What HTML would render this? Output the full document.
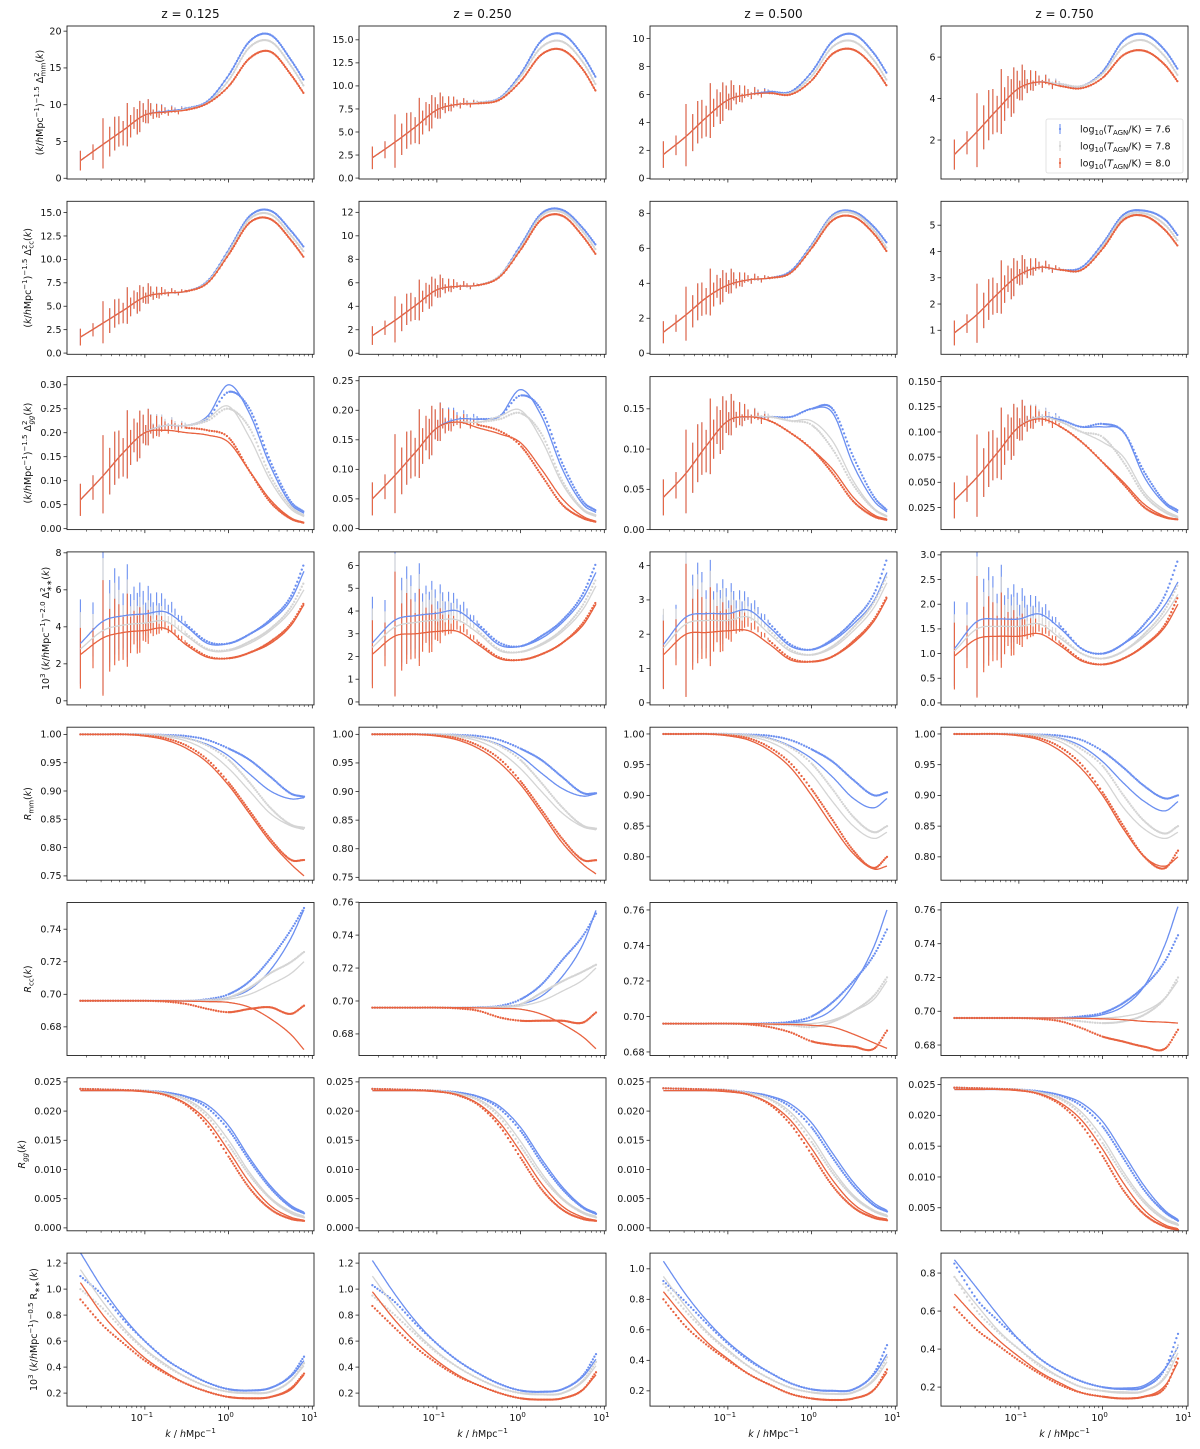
<!DOCTYPE html>
<html><head><meta charset="utf-8"><style>
html,body{margin:0;padding:0;background:#fff;}
svg{display:block;font-family:"DejaVu Sans","Liberation Sans",sans-serif;}
</style></head><body>
<svg id="fig" width="1200" height="1449" viewBox="0 0 1200 1449" xmlns="http://www.w3.org/2000/svg"></svg>
<script>
// ---- data grid (log10 k) ----
const logK=[-1.77,-1.5,-1.25,-1.0,-0.75,-0.5,-0.25,0,0.25,0.5,0.75,0.9];
const zTitles=["z = 0.125","z = 0.250","z = 0.500","z = 0.750"];
const xTickLabels=["10","10","10"];
const xTickExp=["\u22121","0","1"];
const xTickVals=[-1,0,1];
const errK=[-1.77,-1.62,-1.5,-1.42,-1.36,-1.31,-1.26,-1.21,-1.17,-1.13,-1.09,-1.06,-1.02,-0.99,-0.96,-0.93,-0.9,-0.86,-0.83,-0.8,-0.76,-0.72,-0.68,-0.64,-0.6,-0.56,-0.52];
const errFrac=[0.62,0.33,0.8,0.45,0.42,0.36,0.3,0.45,0.24,0.2,0.25,0.28,0.16,0.12,0.2,0.1,0.08,0.11,0.06,0.08,0.05,0.045,0.05,0.035,0.035,0.03,0.02];
const errJit=[0,-0.02,0.03,-0.05,0.06,0.04,-0.06,0.05,-0.03,0.07,-0.04,0.02,0.05,-0.03,0.04,0.06,-0.02,0.03,-0.03,0.04,0.02,-0.02,0.03,0.01,-0.02,0.02,0.01];

// Row 1: Delta^2_mm
const mmB=[[2.4,4.6,6.6,8.6,9.1,9.5,10.5,14.0,18.6,19.5,16.0,13.3],[2.2,3.9,5.6,7.4,8.0,8.2,8.7,11.3,14.9,15.6,13.2,10.9],[1.7,3.0,4.4,5.6,6.0,6.2,6.2,7.6,9.8,10.3,8.9,7.5],[1.3,2.4,3.5,4.5,4.8,4.7,4.6,5.3,6.8,7.1,6.3,5.4]];
const mmG=[[2.4,4.6,6.6,8.6,9.0,9.4,10.3,13.3,17.8,18.6,15.2,12.5],[2.2,3.9,5.6,7.4,8.0,8.2,8.6,11.0,14.2,14.8,12.5,10.1],[1.7,3.0,4.4,5.6,6.0,6.1,6.1,7.3,9.4,9.8,8.4,7.0],[1.3,2.4,3.5,4.5,4.8,4.7,4.6,5.2,6.5,6.8,6.0,5.1]];
const mmR=[[2.4,4.6,6.6,8.6,9.0,9.3,10.2,12.5,16.3,17.2,14.0,11.5],[2.2,3.9,5.6,7.4,8.0,8.1,8.5,10.5,13.4,13.9,11.7,9.4],[1.7,3.0,4.4,5.6,6.0,6.1,6.0,7.0,8.9,9.2,7.9,6.6],[1.3,2.4,3.5,4.5,4.8,4.6,4.5,5.0,6.1,6.3,5.6,4.8]];
// Row 2: Delta^2_cc
const ccB=[[1.7,3.2,4.6,6.0,6.4,6.6,7.7,11.0,14.6,15.2,13.0,11.3],[1.5,2.8,4.1,5.4,5.7,5.8,6.6,9.2,11.9,12.2,10.6,9.2],[1.2,2.2,3.2,3.9,4.2,4.3,4.7,6.2,7.9,8.1,7.2,6.3],[0.9,1.6,2.4,3.1,3.4,3.3,3.4,4.3,5.4,5.55,5.2,4.6]];
const ccG=[[1.7,3.2,4.6,6.0,6.4,6.6,7.6,10.8,14.3,14.8,12.5,10.8],[1.5,2.8,4.1,5.4,5.7,5.8,6.6,9.0,11.7,12.0,10.3,8.8],[1.2,2.2,3.2,3.9,4.2,4.3,4.6,6.1,7.8,8.0,7.0,6.0],[0.9,1.6,2.4,3.1,3.4,3.3,3.3,4.2,5.3,5.45,5.0,4.4]];
const ccR=[[1.7,3.2,4.6,6.0,6.4,6.6,7.5,10.5,13.9,14.3,12.0,10.2],[1.5,2.8,4.1,5.4,5.7,5.8,6.5,8.8,11.4,11.7,9.9,8.4],[1.2,2.2,3.2,3.9,4.2,4.3,4.6,6.0,7.6,7.8,6.8,5.8],[0.9,1.6,2.4,3.1,3.4,3.3,3.3,4.1,5.2,5.35,4.8,4.2]];
// Row 3: Delta^2_gg (model lines / data dots)
const ggB=[[0.06,0.11,0.16,0.20,0.215,0.215,0.235,0.30,0.24,0.13,0.05,0.032],[0.05,0.09,0.13,0.17,0.185,0.185,0.19,0.235,0.19,0.10,0.04,0.027],[0.04,0.07,0.105,0.135,0.14,0.14,0.14,0.15,0.145,0.08,0.035,0.022],[0.032,0.055,0.08,0.105,0.115,0.112,0.105,0.105,0.10,0.055,0.028,0.02]];
const ggBd=[[0.06,0.11,0.16,0.20,0.215,0.215,0.23,0.285,0.25,0.14,0.055,0.035],[0.05,0.09,0.13,0.17,0.185,0.185,0.19,0.225,0.20,0.11,0.045,0.03],[0.04,0.07,0.105,0.135,0.14,0.14,0.14,0.15,0.15,0.09,0.04,0.024],[0.032,0.055,0.08,0.105,0.115,0.112,0.105,0.108,0.10,0.06,0.03,0.022]];
const ggG=[[0.06,0.11,0.16,0.20,0.215,0.215,0.23,0.255,0.19,0.10,0.04,0.025],[0.05,0.09,0.13,0.17,0.18,0.18,0.19,0.20,0.15,0.075,0.03,0.02],[0.04,0.07,0.105,0.135,0.14,0.14,0.135,0.135,0.11,0.06,0.026,0.017],[0.032,0.055,0.08,0.105,0.115,0.11,0.10,0.09,0.075,0.04,0.022,0.016]];
const ggGd=[[0.06,0.11,0.16,0.20,0.215,0.215,0.225,0.25,0.21,0.11,0.045,0.027],[0.05,0.09,0.13,0.17,0.18,0.18,0.185,0.195,0.16,0.08,0.032,0.022],[0.04,0.07,0.105,0.135,0.14,0.14,0.135,0.13,0.10,0.055,0.025,0.016],[0.032,0.055,0.08,0.105,0.115,0.11,0.10,0.095,0.07,0.037,0.02,0.015]];
const ggR=[[0.06,0.11,0.16,0.20,0.205,0.20,0.195,0.18,0.12,0.06,0.022,0.013],[0.05,0.09,0.13,0.17,0.18,0.17,0.16,0.145,0.10,0.05,0.02,0.012],[0.04,0.07,0.105,0.135,0.14,0.135,0.12,0.10,0.075,0.04,0.018,0.013],[0.032,0.055,0.08,0.105,0.113,0.105,0.09,0.07,0.05,0.028,0.016,0.013]];
const ggRd=[[0.06,0.11,0.16,0.20,0.21,0.21,0.205,0.19,0.12,0.055,0.02,0.012],[0.05,0.09,0.13,0.17,0.18,0.175,0.165,0.14,0.09,0.04,0.017,0.011],[0.04,0.07,0.105,0.135,0.14,0.135,0.12,0.10,0.07,0.035,0.016,0.012],[0.032,0.055,0.08,0.105,0.113,0.105,0.09,0.07,0.048,0.025,0.015,0.013]];
// Row 4: Delta^2_** (x1e3)
const ssB=[[3.1,4.3,4.6,4.7,4.8,4.0,3.1,3.1,3.6,4.3,5.5,7.0],[2.6,3.6,3.8,3.9,4.0,3.3,2.5,2.45,2.8,3.5,4.6,5.7],[1.7,2.5,2.6,2.6,2.7,2.2,1.65,1.55,1.8,2.3,3.0,3.8],[1.1,1.65,1.7,1.7,1.8,1.5,1.1,1.0,1.2,1.5,2.0,2.45]];
const ssBd=[[3.2,4.4,4.6,4.8,5.1,4.1,3.2,3.1,3.6,4.4,5.7,7.4],[2.7,3.7,3.8,4.0,4.2,3.4,2.6,2.45,2.9,3.6,4.8,6.1],[1.5,2.5,2.6,2.7,2.85,2.3,1.7,1.55,1.85,2.4,3.2,4.2],[1.2,1.7,1.75,1.8,1.9,1.55,1.1,1.0,1.2,1.6,2.2,2.9]];
const ssG=[[2.8,3.8,4.1,4.2,4.3,3.5,2.75,2.7,3.1,3.8,4.9,6.0],[2.4,3.3,3.5,3.6,3.6,3.0,2.25,2.2,2.5,3.1,4.1,5.1],[1.6,2.3,2.4,2.4,2.5,2.0,1.5,1.4,1.6,2.1,2.8,3.5],[1.05,1.5,1.55,1.55,1.6,1.3,1.0,0.9,1.05,1.35,1.8,2.2]];
const ssGd=[[2.8,3.9,4.1,4.2,4.5,3.6,2.8,2.75,3.2,3.9,5.1,6.4],[2.4,3.3,3.5,3.7,3.8,3.1,2.3,2.2,2.55,3.2,4.3,5.4],[1.6,2.3,2.4,2.5,2.6,2.1,1.55,1.4,1.65,2.2,2.95,3.7],[1.05,1.5,1.6,1.6,1.7,1.35,1.0,0.9,1.05,1.4,1.9,2.4]];
const ssR=[[2.5,3.4,3.7,3.8,3.9,3.0,2.35,2.3,2.6,3.1,4.1,5.2],[2.1,2.9,3.0,3.1,3.1,2.5,1.9,1.85,2.1,2.6,3.4,4.3],[1.4,2.0,2.05,2.1,2.1,1.7,1.25,1.2,1.35,1.75,2.4,3.05],[0.95,1.3,1.35,1.35,1.4,1.15,0.85,0.78,0.9,1.15,1.55,2.0]];
const ssRd=[[2.3,3.3,3.6,3.8,4.0,3.1,2.4,2.3,2.6,3.2,4.2,5.3],[2.1,2.9,3.1,3.2,3.3,2.6,1.95,1.85,2.1,2.6,3.5,4.4],[1.4,2.05,2.1,2.2,2.3,1.8,1.3,1.2,1.35,1.8,2.45,3.1],[0.95,1.3,1.4,1.4,1.5,1.2,0.87,0.78,0.9,1.17,1.6,2.15]];
// Row 5: R_mm
const rmB=[[1,1,1,1,0.998,0.993,0.982,0.962,0.93,0.9,0.886,0.888],[1,1,1,1,0.998,0.993,0.982,0.962,0.932,0.905,0.892,0.896],[1,1,1,1,0.998,0.993,0.98,0.96,0.93,0.895,0.88,0.895],[1,1,1,1,0.998,0.993,0.98,0.955,0.92,0.89,0.875,0.89]];
const rmBd=[[1,1,1,1,0.999,0.997,0.99,0.975,0.955,0.925,0.895,0.89],[1,1,1,1,0.999,0.997,0.99,0.975,0.955,0.925,0.897,0.897],[1,1,1,1,0.999,0.997,0.99,0.975,0.955,0.925,0.9,0.905],[1,1,1,1,0.999,0.997,0.99,0.972,0.945,0.915,0.895,0.9]];
const rmG=[[1,1,1,0.999,0.996,0.988,0.97,0.94,0.9,0.86,0.838,0.832],[1,1,1,0.999,0.996,0.988,0.97,0.94,0.9,0.862,0.838,0.833],[1,1,1,0.999,0.996,0.987,0.968,0.935,0.89,0.85,0.83,0.84],[1,1,1,0.999,0.996,0.987,0.965,0.93,0.88,0.845,0.83,0.84]];
const rmGd=[[1,1,1,1,0.998,0.993,0.98,0.955,0.915,0.87,0.84,0.835],[1,1,1,1,0.998,0.993,0.98,0.955,0.915,0.872,0.84,0.835],[1,1,1,1,0.998,0.992,0.978,0.952,0.91,0.865,0.84,0.85],[1,1,1,1,0.998,0.992,0.975,0.948,0.9,0.858,0.838,0.85]];
const rmR=[[1,1,1,0.997,0.99,0.975,0.95,0.91,0.86,0.81,0.77,0.75],[1,1,1,0.997,0.99,0.975,0.95,0.912,0.862,0.81,0.772,0.756],[1,1,1,0.997,0.99,0.973,0.945,0.9,0.85,0.805,0.78,0.785],[1,1,1,0.997,0.99,0.972,0.943,0.9,0.845,0.8,0.785,0.8]];
const rmRd=[[1,1,1,0.998,0.993,0.98,0.955,0.915,0.865,0.815,0.778,0.778],[1,1,1,0.998,0.993,0.98,0.957,0.918,0.868,0.817,0.78,0.78],[1,1,1,0.998,0.993,0.978,0.952,0.91,0.86,0.81,0.782,0.8],[1,1,1,0.998,0.993,0.978,0.95,0.905,0.85,0.8,0.782,0.81]];
// Row 6: R_cc
const rcB=[[.696,.696,.696,.696,.696,.696,.6965,.698,.703,.715,.735,.752],[.696,.696,.696,.696,.696,.696,.6965,.698,.703,.715,.735,.755],[.696,.696,.696,.696,.696,.696,.6965,.698,.704,.718,.74,.76],[.696,.696,.696,.696,.696,.696,.6965,.698,.703,.715,.74,.762]];
const rcBd=[[.696,.696,.696,.696,.696,.696,.697,.700,.708,.722,.74,.753],[.696,.696,.696,.696,.696,.6962,.697,.701,.71,.725,.74,.753],[.696,.696,.696,.696,.696,.6962,.697,.70,.708,.72,.735,.749],[.696,.696,.696,.696,.696,.696,.697,.699,.705,.715,.73,.745]];
const rcG=[[.696,.696,.696,.696,.696,.696,.696,.697,.700,.706,.713,.72],[.696,.696,.696,.696,.696,.696,.696,.697,.700,.706,.713,.72],[.696,.696,.696,.696,.696,.696,.696,.696,.698,.703,.71,.72],[.696,.696,.696,.696,.696,.696,.696,.696,.697,.700,.708,.718]];
const rcGd=[[.696,.696,.696,.696,.696,.696,.6965,.698,.704,.713,.72,.726],[.696,.696,.696,.696,.696,.696,.6965,.698,.705,.712,.718,.722],[.696,.696,.696,.696,.696,.6955,.695,.694,.697,.703,.712,.722],[.696,.696,.696,.696,.696,.6955,.694,.693,.694,.698,.708,.72]];
const rcR=[[.696,.696,.696,.696,.696,.6958,.6955,.695,.692,.685,.675,.666],[.696,.696,.696,.696,.696,.6958,.6955,.695,.692,.686,.678,.671],[.696,.696,.696,.696,.696,.6957,.6955,.695,.694,.69,.685,.682],[.696,.696,.696,.696,.696,.696,.6958,.6955,.695,.694,.6935,.693]];
const rcRd=[[.696,.696,.696,.696,.6955,.694,.691,.689,.691,.692,.688,.693],[.696,.696,.696,.696,.6955,.694,.69,.688,.688,.688,.687,.693],[.696,.696,.696,.696,.6955,.694,.691,.686,.684,.683,.682,.692],[.696,.696,.696,.696,.6955,.694,.69,.685,.682,.679,.678,.689]];
// Row 7: R_gg
const rgB=[[.0235,.0235,.0235,.0234,.0232,.0225,.021,.0175,.012,.0072,.0038,.0027],[.0235,.0235,.0235,.0234,.0232,.0225,.0208,.0172,.0118,.007,.0036,.0026],[.0235,.0235,.0235,.0234,.0232,.0226,.0212,.018,.0128,.0078,.0042,.003],[.0242,.0242,.0242,.0241,.0239,.0233,.022,.019,.0138,.0085,.0045,.0031]];
const rgBd=[[.0238,.0237,.0236,.0235,.0232,.0224,.0205,.0168,.0115,.0068,.0035,.0025],[.0238,.0237,.0236,.0235,.0232,.0224,.0204,.0166,.0112,.0066,.0034,.0024],[.0239,.0238,.0237,.0236,.0232,.0225,.0207,.0172,.012,.0072,.0038,.0028],[.0245,.0244,.0243,.0242,.0239,.0232,.0215,.0182,.013,.0078,.0042,.0029]];
const rgG=[[.0235,.0235,.0235,.0234,.023,.022,.0195,.015,.0095,.0052,.0028,.002],[.0235,.0235,.0235,.0234,.023,.022,.0194,.0148,.0094,.0051,.0027,.002],[.0235,.0235,.0235,.0234,.023,.0221,.0198,.0155,.01,.0056,.003,.0022],[.0242,.0242,.0242,.0241,.0237,.0228,.0205,.0163,.0108,.0062,.0033,.0024]];
const rgGd=[[.0238,.0237,.0236,.0235,.023,.0218,.019,.0142,.009,.005,.0025,.0018],[.0238,.0237,.0236,.0235,.023,.0218,.0189,.014,.0088,.0049,.0025,.0018],[.0239,.0238,.0237,.0236,.0231,.022,.0193,.0147,.0094,.0053,.0028,.002],[.0245,.0244,.0243,.0242,.0237,.0226,.02,.0155,.0102,.0058,.003,.0022]];
const rgR=[[.0235,.0235,.0235,.0233,.0228,.0212,.0182,.0132,.0078,.0038,.0018,.0013],[.0235,.0235,.0235,.0233,.0228,.0212,.018,.013,.0076,.0037,.0018,.0013],[.0235,.0235,.0235,.0233,.0228,.0213,.0184,.0136,.0082,.0041,.002,.0015],[.0242,.0242,.0242,.024,.0235,.022,.0192,.0145,.009,.0046,.0022,.0016]];
const rgRd=[[.0238,.0237,.0236,.0234,.0227,.021,.0175,.0122,.0068,.0032,.0015,.0012],[.0238,.0237,.0236,.0234,.0227,.021,.0174,.012,.0066,.0031,.0015,.0012],[.0239,.0238,.0237,.0235,.0228,.0211,.0177,.0126,.0072,.0035,.0017,.0013],[.0245,.0244,.0243,.0241,.0234,.0217,.0184,.0134,.0078,.0039,.0019,.0014]];
// Row 8: R_** (x1e3)
const rsB=[[1.28,1.0,0.78,0.6,0.46,0.36,0.28,0.23,0.22,0.24,0.33,0.45],[1.22,0.96,0.75,0.58,0.45,0.35,0.27,0.22,0.21,0.23,0.33,0.46],[1.05,0.83,0.66,0.52,0.41,0.32,0.25,0.21,0.2,0.21,0.31,0.44],[0.87,0.72,0.58,0.45,0.35,0.28,0.23,0.2,0.195,0.21,0.3,0.41]];
const rsBd=[[1.1,0.95,0.76,0.6,0.46,0.36,0.28,0.23,0.22,0.24,0.34,0.48],[1.03,0.9,0.73,0.58,0.45,0.35,0.27,0.22,0.21,0.23,0.34,0.5],[0.92,0.78,0.64,0.51,0.4,0.32,0.25,0.21,0.2,0.21,0.32,0.5],[0.85,0.66,0.55,0.45,0.35,0.28,0.23,0.2,0.19,0.2,0.3,0.48]];
const rsG=[[1.15,0.9,0.7,0.54,0.42,0.32,0.25,0.21,0.2,0.21,0.3,0.41],[1.1,0.86,0.67,0.52,0.4,0.31,0.24,0.2,0.19,0.2,0.29,0.41],[0.95,0.75,0.59,0.47,0.36,0.28,0.22,0.19,0.18,0.19,0.27,0.39],[0.78,0.63,0.5,0.4,0.32,0.25,0.2,0.18,0.175,0.18,0.25,0.38]];
const rsGd=[[1.0,0.85,0.68,0.53,0.41,0.32,0.25,0.21,0.2,0.21,0.3,0.43],[0.95,0.8,0.65,0.51,0.4,0.31,0.24,0.2,0.19,0.2,0.3,0.44],[0.9,0.72,0.58,0.46,0.36,0.28,0.22,0.19,0.18,0.19,0.28,0.42],[0.78,0.6,0.49,0.4,0.31,0.25,0.2,0.18,0.17,0.18,0.26,0.42]];
const rsR=[[1.05,0.8,0.62,0.47,0.36,0.27,0.21,0.17,0.16,0.17,0.23,0.34],[0.98,0.76,0.59,0.45,0.34,0.26,0.2,0.16,0.15,0.16,0.23,0.34],[0.85,0.67,0.52,0.41,0.31,0.24,0.18,0.15,0.14,0.15,0.21,0.32],[0.69,0.56,0.45,0.36,0.28,0.22,0.17,0.15,0.14,0.15,0.21,0.33]];
const rsRd=[[0.92,0.72,0.58,0.45,0.35,0.27,0.21,0.17,0.16,0.17,0.24,0.35],[0.87,0.7,0.55,0.43,0.33,0.26,0.2,0.16,0.15,0.16,0.23,0.36],[0.8,0.62,0.5,0.4,0.31,0.24,0.18,0.15,0.14,0.15,0.21,0.34],[0.62,0.5,0.42,0.34,0.27,0.21,0.17,0.15,0.14,0.15,0.2,0.35]];

// ---- axis configuration ----
const COLS=["#6b8ff0","#d4d4d4","#e8623f"];
const colX=[67,359,650,941], PW=247, PH=153, XMIN=-1.93, XMAX=1.02;
function rowY(r){return 26+r*175.3;}
const rows=[
 {name:'mm',lines:[mmB,mmG,mmR],dots:[mmB,mmG,mmR],err:0.9,
  ylim:[[-0.1,20.7],[-0.1,16.5],[-0.05,10.9],[0.12,7.5]],
  ticks:[["0","5","10","15","20"],["0.0","2.5","5.0","7.5","10.0","12.5","15.0"],["0","2","4","6","8","10"],["2","4","6"]],
  label:[["(",""],["k","i"],["/","" ],["h","i"],["Mpc",""],["\u22121","sup"],[")",""],["\u22121.5","sup"],[" \u0394",""],["2","sup"],["mm","sub"],["(",""],["k","i"],[")",""]]},
 {name:'cc',lines:[ccB,ccG,ccR],dots:[ccB,ccG,ccR],err:0.85,
  ylim:[[-0.13,16.2],[-0.09,12.94],[-0.06,8.69],[0.086,5.91]],
  ticks:[["0.0","2.5","5.0","7.5","10.0","12.5","15.0"],["0","2","4","6","8","10","12"],["0","2","4","6","8"],["1","2","3","4","5"]],
  label:[["(",""],["k","i"],["/","" ],["h","i"],["Mpc",""],["\u22121","sup"],[")",""],["\u22121.5","sup"],[" \u0394",""],["2","sup"],["cc","sub"],["(",""],["k","i"],[")",""]]},
 {name:'gg',lines:[ggB,ggG,ggR],dots:[ggBd,ggGd,ggRd],err:0.9,
  ylim:[[-0.002,0.317],[-0.002,0.257],[0,0.19],[0.003,0.155]],
  ticks:[["0.00","0.05","0.10","0.15","0.20","0.25","0.30"],["0.00","0.05","0.10","0.15","0.20","0.25"],["0.00","0.05","0.10","0.15"],["0.025","0.050","0.075","0.100","0.125","0.150"]],
  label:[["(",""],["k","i"],["/","" ],["h","i"],["Mpc",""],["\u22121","sup"],[")",""],["\u22121.5","sup"],[" \u0394",""],["2","sup"],["gg","subi"],["(",""],["k","i"],[")",""]]},
 {name:'ss',lines:[ssB,ssG,ssR],dots:[ssBd,ssGd,ssRd],err:1.15,
  ylim:[[-0.22,8.05],[-0.13,6.6],[-0.06,4.4],[-0.04,3.06]],
  ticks:[["0","2","4","6","8"],["0","1","2","3","4","5","6"],["0","1","2","3","4"],["0.0","0.5","1.0","1.5","2.0","2.5","3.0"]],
  label:[["10",""],["3","sup"],[" (",""],["k","i"],["/","" ],["h","i"],["Mpc",""],["\u22121","sup"],[")",""],["\u22122.0","sup"],[" \u0394",""],["2","sup"],["\u2217\u2217","sub"],["(",""],["k","i"],[")",""]]},
 {name:'rmm',lines:[rmB,rmG,rmR],dots:[rmBd,rmGd,rmRd],err:0,
  ylim:[[0.7424,1.0127],[0.745,1.0125],[0.762,1.011],[0.762,1.011]],
  ticks:[["0.75","0.80","0.85","0.90","0.95","1.00"],["0.75","0.80","0.85","0.90","0.95","1.00"],["0.80","0.85","0.90","0.95","1.00"],["0.80","0.85","0.90","0.95","1.00"]],
  label:[["R","i"],["mm","sub"],["(",""],["k","i"],[")",""]]},
 {name:'rcc',lines:[rcB,rcG,rcR],dots:[rcBd,rcGd,rcRd],err:0,
  ylim:[[0.6624,0.7564],[0.6669,0.7598],[0.678,0.7642],[0.6738,0.7644]],
  ticks:[["0.68","0.70","0.72","0.74"],["0.68","0.70","0.72","0.74","0.76"],["0.68","0.70","0.72","0.74","0.76"],["0.68","0.70","0.72","0.74","0.76"]],
  label:[["R","i"],["cc","sub"],["(",""],["k","i"],[")",""]]},
 {name:'rgg',lines:[rgB,rgG,rgR],dots:[rgBd,rgGd,rgRd],err:0,
  ylim:[[-0.0005,0.0257],[-0.0005,0.0257],[-0.0005,0.0257],[0.00126,0.0261]],
  ticks:[["0.000","0.005","0.010","0.015","0.020","0.025"],["0.000","0.005","0.010","0.015","0.020","0.025"],["0.000","0.005","0.010","0.015","0.020","0.025"],["0.005","0.010","0.015","0.020","0.025"]],
  label:[["R","i"],["gg","subi"],["(",""],["k","i"],[")",""]]},
 {name:'rss',lines:[rsB,rsG,rsR],dots:[rsBd,rsGd,rsRd],err:0,
  ylim:[[0.1,1.277],[0.1,1.277],[0.1,1.103],[0.1,0.905]],
  ticks:[["0.2","0.4","0.6","0.8","1.0","1.2"],["0.2","0.4","0.6","0.8","1.0","1.2"],["0.2","0.4","0.6","0.8","1.0"],["0.2","0.4","0.6","0.8"]],
  label:[["10",""],["3","sup"],[" (",""],["k","i"],["/","" ],["h","i"],["Mpc",""],["\u22121","sup"],[")",""],["\u22120.5","sup"],[" R",""],["\u2217\u2217","sub"],["(",""],["k","i"],[")",""]]}
];

const NS="http://www.w3.org/2000/svg";
const svg=document.getElementById('fig');
function mk(tag,attrs,parent){const e=document.createElementNS(NS,tag);for(const k in attrs)e.setAttribute(k,attrs[k]);(parent||svg).appendChild(e);return e;}

// cubic hermite interpolation in log k (averaged secant slopes)
function interp(xs,ys,x){
  const n=xs.length;
  if(x<=xs[0])return ys[0]; if(x>=xs[n-1])return ys[n-1];
  let i=0;while(x>xs[i+1])i++;
  const d=[];for(let j=0;j<n-1;j++)d.push((ys[j+1]-ys[j])/(xs[j+1]-xs[j]));
  const m=j=>j===0?d[0]:(j===n-1?d[n-2]:(d[j-1]+d[j])/2);
  const h=xs[i+1]-xs[i],t=(x-xs[i])/h,t2=t*t,t3=t2*t;
  return (2*t3-3*t2+1)*ys[i]+(t3-2*t2+t)*h*m(i)+(-2*t3+3*t2)*ys[i+1]+(t3-t2)*h*m(i+1);
}

for(let r=0;r<rows.length;r++){
 const row=rows[r];
 for(let c=0;c<4;c++){
  const x0=colX[c], y0=rowY(r);
  const [ymin,ymax]=row.ylim[c];
  const X=l=>x0+(l-XMIN)/(XMAX-XMIN)*PW;
  const Y=v=>y0+PH-(v-ymin)/(ymax-ymin)*PH;
  const g=mk('g',{});
  
  
  const clipId='clip'+r+'_'+c;
  const cp=mk('clipPath',{id:clipId},g);
  mk('rect',{x:x0,y:y0,width:PW,height:PH},cp);
  const plot=mk('g',{'clip-path':'url(#'+clipId+')'},g);
  if(row.err>0){
   for(let s=0;s<3;s++){
    const eg=mk('g',{stroke:COLS[s],'stroke-width':1.1},plot);
    
    
    for(let i=0;i<errK.length;i++){
     const v=interp(logK,row.dots[s][c],errK[i])*(1+errJit[i]);
     const e=v*errFrac[i]*row.err;
     const ln=mk('line',{x1:X(errK[i]).toFixed(1),x2:X(errK[i]).toFixed(1),y1:Y(v-e).toFixed(1),y2:Y(v+e).toFixed(1)},eg);
     
     
    }
   }
  }
  for(let s=0;s<3;s++){
   const dg=mk('g',{fill:COLS[s]},plot);
   
   
   const start=row.err>0?-0.5:logK[0];
   for(let l=start;l<=logK[logK.length-1]+1e-9;l+=(l<0?0.03:0.018)){
    const v=interp(logK,row.dots[s][c],l);
    const d=mk('circle',{cx:X(l).toFixed(1),cy:Y(v).toFixed(1),r:1.15},dg);
    
    
   }
   let p='';
   for(let l=logK[0];l<=logK[logK.length-1]+1e-9;l+=0.01){
    const v=interp(logK,row.lines[s][c],l);
    p+=(p?'L':'M')+X(l).toFixed(1)+','+Y(v).toFixed(1);
   }
   const path=mk('path',{d:p,fill:'none',stroke:COLS[s],'stroke-width':1.3},plot);
   
   
  }
  const fr=mk('rect',{x:x0,y:y0,width:PW,height:PH,fill:'none',stroke:'#222','stroke-width':0.9},g);
  
  
  const yt=row.ticks[c];
  let maxw=0;
  for(const t of yt){
   const v=parseFloat(t),yy=Y(v);
   mk('line',{x1:x0-3.5,x2:x0,y1:yy,y2:yy,stroke:'#222','stroke-width':0.8},g);
   const tx=mk('text',{x:x0-5.5,y:yy+3.3,'font-size':9.5,'text-anchor':'end',fill:'#111'},g);
   tx.textContent=t;
   
   
   maxw=Math.max(maxw,t.length*6.0);
  }
  for(let dec=-2;dec<=1;dec++){
   for(let m=1;m<=9;m++){
    const l=dec+Math.log10(m);
    if(l<XMIN||l>XMAX)continue;
    const len=m===1?3.5:2;
    mk('line',{x1:X(l),x2:X(l),y1:y0+PH,y2:y0+PH+len,stroke:'#222','stroke-width':m===1?0.8:0.6},g);
   }
  }
  if(r===rows.length-1){
   for(let i=0;i<xTickVals.length;i++){
    const tx=mk('text',{x:X(xTickVals[i])-3,y:y0+PH+15,'font-size':9.5,'text-anchor':'middle',fill:'#111'},g);
    
    
    tx.textContent=xTickLabels[i];
    const sp=mk('tspan',{dy:-4,'font-size':7},tx);sp.textContent=xTickExp[i];
   }
   const xl=mk('text',{x:x0+PW/2,y:y0+PH+31,'font-size':9.5,'text-anchor':'middle',fill:'#111'},g);
   
   
   const a=mk('tspan',{'font-style':'italic'},xl);a.textContent='k';
   const b=mk('tspan',{},xl);b.textContent=' / ';
   const h=mk('tspan',{'font-style':'italic'},xl);h.textContent='h';
   const mp=mk('tspan',{},xl);mp.textContent='Mpc';
   const ex=mk('tspan',{dy:-4,'font-size':7},xl);ex.textContent='\u22121';
  }
  if(r===0){
   const tt=mk('text',{x:x0+PW/2,y:18,'font-size':12,'text-anchor':'middle',fill:'#111'},g);
   
   
   tt.textContent=zTitles[c];
  }
  if(c===0){
   const lx=x0-7-maxw-5, ly=y0+PH/2;
   const yl=mk('text',{x:0,y:0,'font-size':9.5,'text-anchor':'middle',fill:'#111',transform:'translate('+lx+','+ly+') rotate(-90)'},g);
   
   
   let shift=0;
   for(let q=0;q<row.label.length;q++){
    const [txt,kind]=row.label[q];
    const at={};
    let target=0;
    if(kind==='sup'){at['font-size']=7;target=-4;}
    else if(kind==='sub'||kind==='subi'){at['font-size']=7;target=2.5;if(kind==='subi')at['font-style']='italic';
      if(q>0&&row.label[q-1][0]==='2')at.dx=-4;}
    else if(kind==='i'){at['font-style']='italic';}
    at.dy=(target-shift);shift=target;
    const sp=mk('tspan',at,yl);sp.textContent=txt;
   }
  }
  if(r===0&&c===3){
   const lg=mk('g',{},g);
   
   
   mk('rect',{x:1046,y:119,width:137,height:54,rx:2,fill:'#fff',stroke:'#ddd','stroke-width':0.8},lg);
   const vals=["7.6","7.8","8.0"];
   for(let s=0;s<3;s++){
    const yy=129+s*17;
    const e=mk('g',{},lg);
    
    
    mk('line',{x1:1060,x2:1060,y1:yy-5,y2:yy+5,stroke:COLS[s],'stroke-width':1.1},e);
    mk('circle',{cx:1060,cy:yy,r:1.1,fill:COLS[s]},e);
    const t=mk('text',{x:1080,y:yy+3.5,'font-size':9.5,fill:'#111'},e);
    const t1=mk('tspan',{},t);t1.textContent='log';
    const t2=mk('tspan',{dy:2.5,'font-size':7},t);t2.textContent='10';
    const t3=mk('tspan',{dy:-2.5},t);t3.textContent='(';
    const t4=mk('tspan',{'font-style':'italic'},t);t4.textContent='T';
    const t5=mk('tspan',{dy:2.5,'font-size':7},t);t5.textContent='AGN';
    const t6=mk('tspan',{dy:-2.5},t);t6.textContent='/K) = '+vals[s];
   }
  }
 }
}
</script>
</body></html>
